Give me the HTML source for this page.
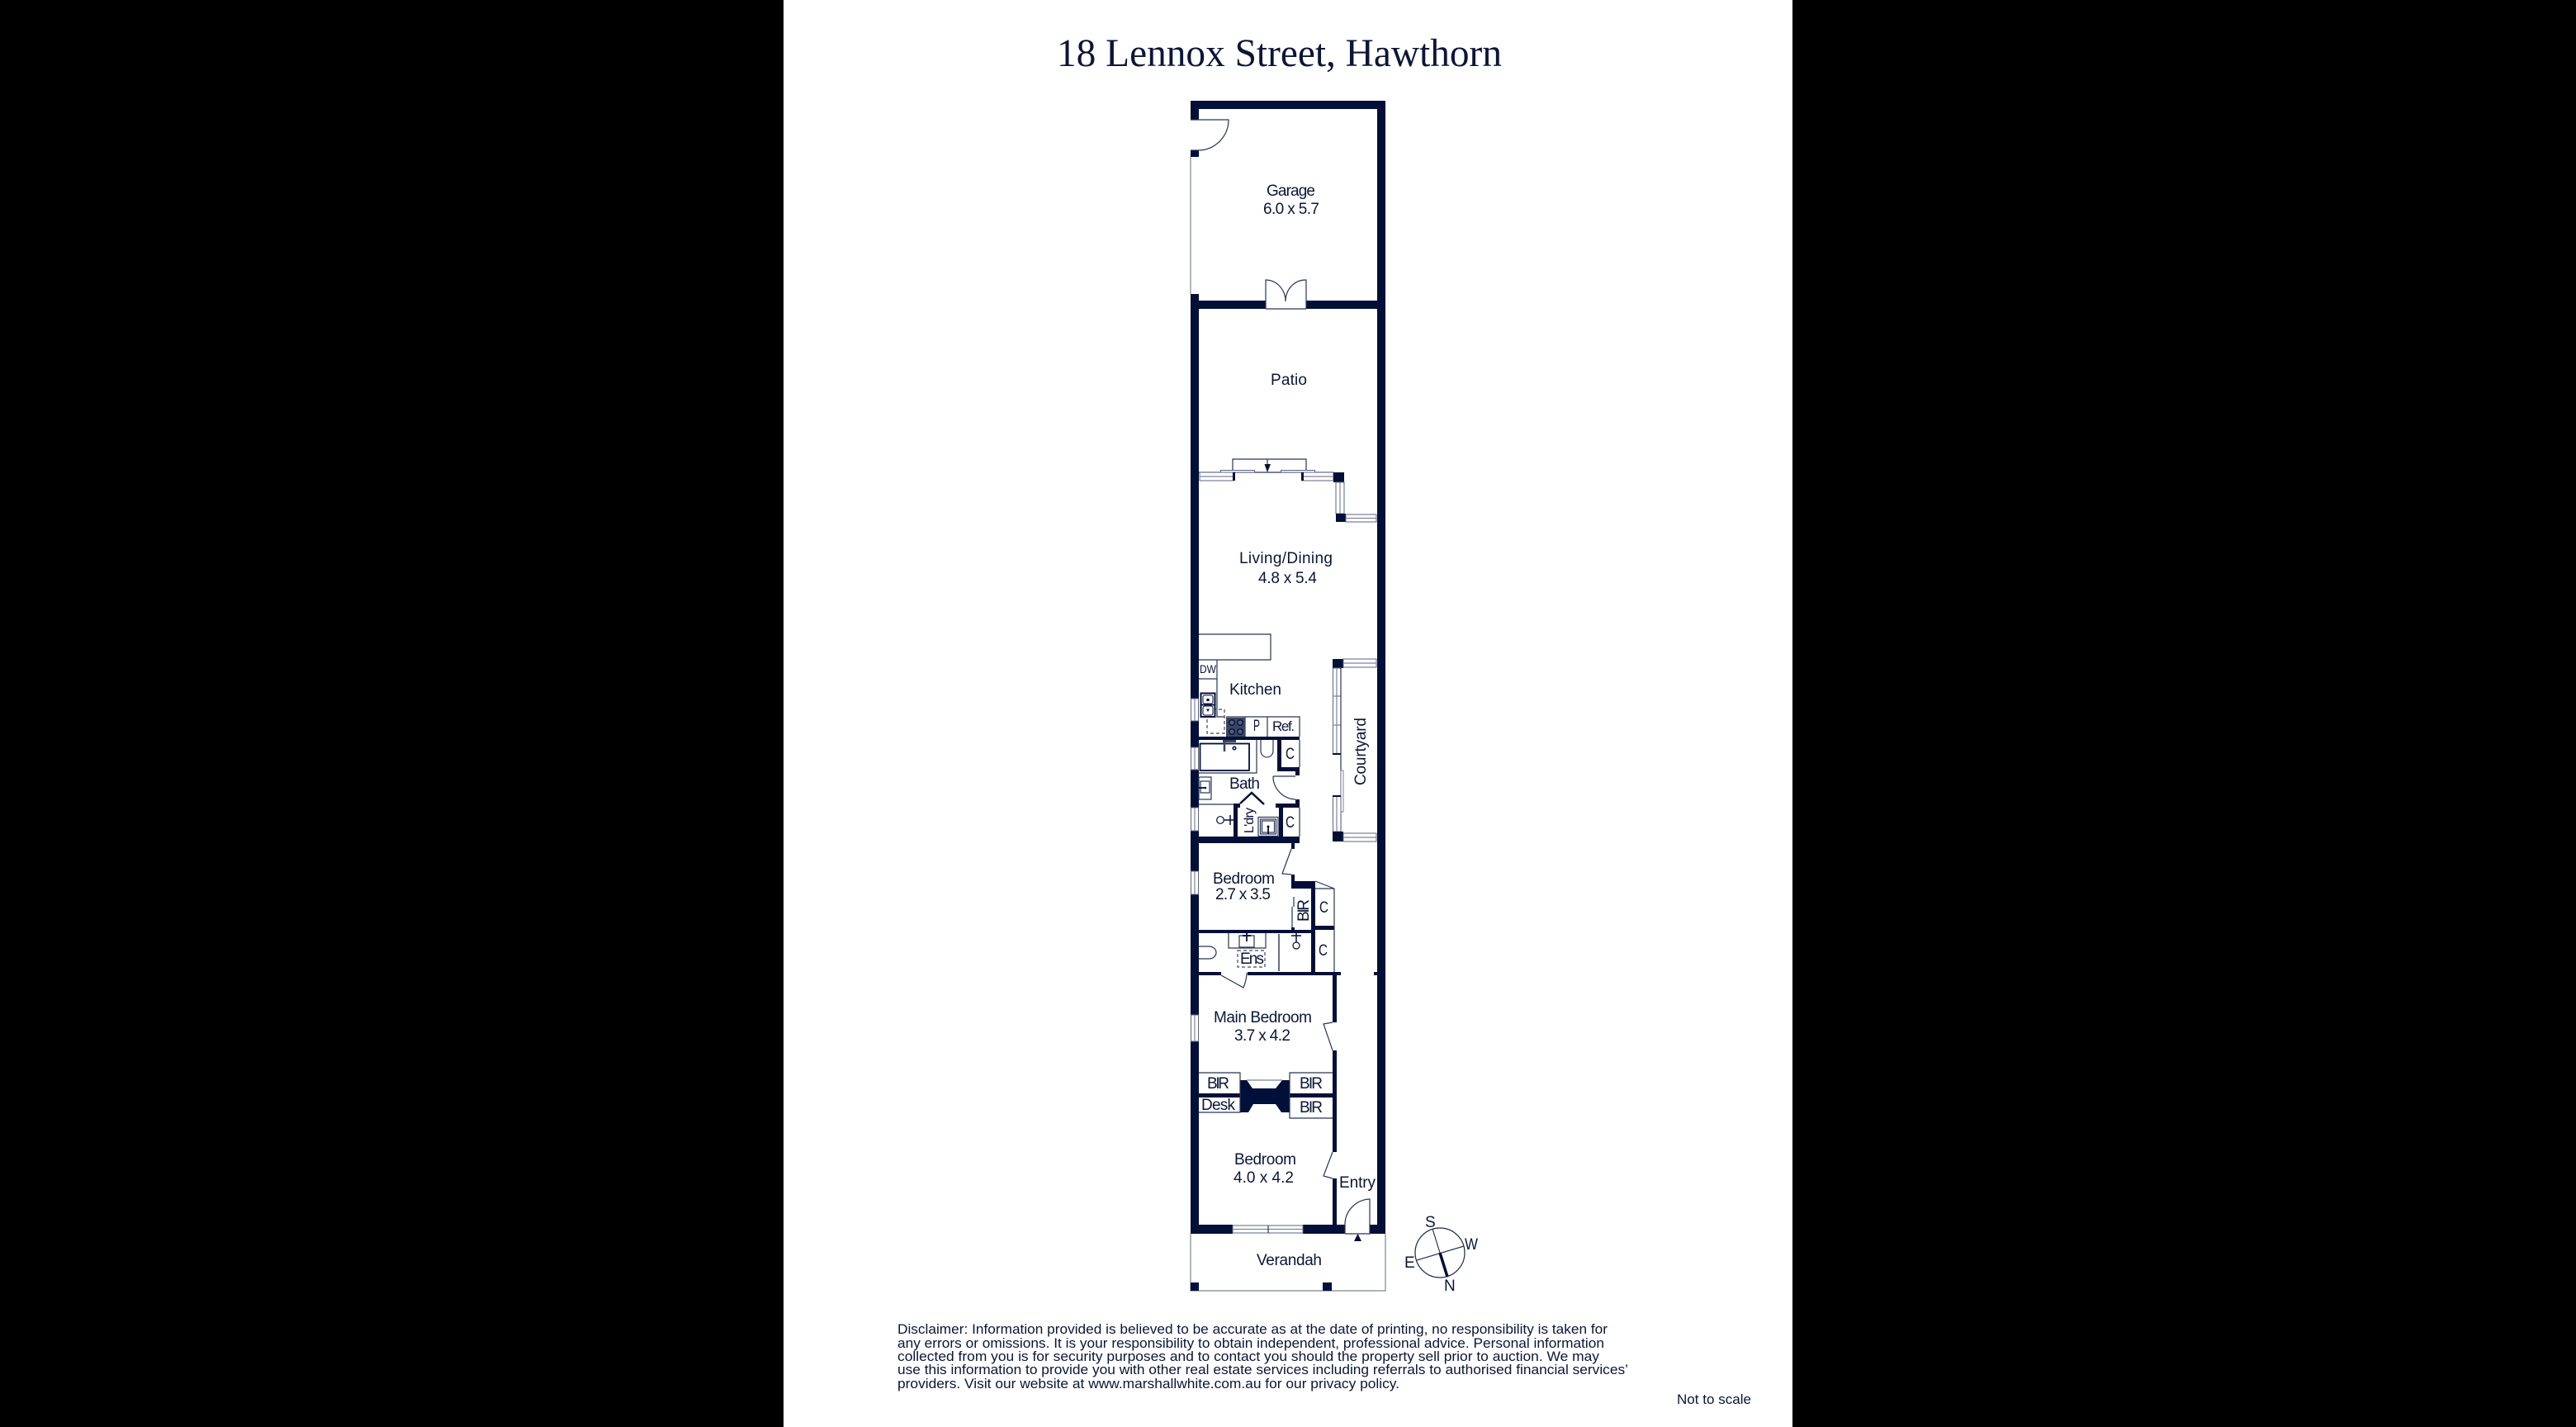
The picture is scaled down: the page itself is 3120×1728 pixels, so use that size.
<!DOCTYPE html>
<html><head><meta charset="utf-8"><style>
html,body{margin:0;padding:0;background:#000}
svg{display:block}
text{font-family:"Liberation Sans",Arial,sans-serif;fill:#0b1638}
.s{font-size:19px}
.w{fill:#020f38}
.l{fill:none;stroke:#2a3556;stroke-width:1.2}
.g{fill:none;stroke:#7d859c;stroke-width:1.2}
.win{fill:#fff;stroke:#5c6580;stroke-width:1}
.t{fill:none;stroke:#020f38;stroke-width:1.8}
</style></head><body>
<svg width="3120" height="1728" viewBox="0 0 3120 1728" xmlns="http://www.w3.org/2000/svg">
<rect width="3120" height="1728" fill="#000"/>
<rect x="949" width="1222" height="1728" fill="#fff"/>

<text x="1280" y="80" style="font-family:'Liberation Serif',serif;font-size:47.5px" textLength="539" lengthAdjust="spacingAndGlyphs">18 Lennox Street, Hawthorn</text>

<!-- Outer walls -->
<g class="w">
<rect x="1442" y="122" width="236" height="10"/>
<rect x="1442" y="122" width="10" height="23"/>
<rect x="1442" y="182" width="10" height="8"/>
<rect x="1442" y="356" width="10" height="490"/>
<rect x="1442" y="873" width="10" height="32"/>
<rect x="1442" y="932" width="10" height="46"/>
<rect x="1442" y="1006" width="10" height="49"/>
<rect x="1442" y="1083" width="10" height="146"/>
<rect x="1442" y="1261" width="10" height="233"/>
<rect x="1668" y="122" width="10" height="1372"/>
<rect x="1452" y="364" width="81" height="10"/>
<rect x="1582" y="364" width="86" height="10"/>
<rect x="1442" y="1483" width="51" height="11"/>
<rect x="1578" y="1483" width="51" height="11"/>
<rect x="1659" y="1483" width="19" height="11"/>
</g>
<path class="g" d="M1442 190V356"/>

<!-- Garage doors -->
<path class="l" d="M1442 145H1488A37 37 0 0 1 1451 182H1442"/>
<path class="l" d="M1533 374V339A24 26 0 0 1 1557 365A24 26 0 0 1 1582 339V374M1533 374H1582"/>

<!-- Patio openings -->
<path class="l" d="M1452 572H1615"/>
<path class="l" d="M1493 572V556H1582V572"/>
<path class="l" d="M1535 556V563"/>
<polygon class="w" points="1531.500,562 1539,562 1535,572"/>
<rect class="win" x="1478.500" y="569.500" width="41" height="2.500"/>
<rect class="win" x="1551.500" y="569.500" width="41" height="2.500"/>
<rect class="win" x="1453" y="572" width="41" height="10"/>
<path class="g" d="M1453 577H1494"/>
<rect class="win" x="1577" y="572" width="38" height="10"/>
<path class="g" d="M1577 577H1615"/>
<rect class="w" x="1493" y="572" width="3" height="10"/>
<rect class="w" x="1576" y="572" width="3" height="10"/>
<rect class="w" x="1615" y="572" width="13" height="12"/>
<rect class="win" x="1618" y="584" width="10" height="38"/>
<path class="g" d="M1623 584V622"/>
<rect class="w" x="1618" y="622" width="12" height="10"/>
<rect class="win" x="1630" y="623" width="37" height="9"/>
<path class="g" d="M1630 627.500H1667"/>

<!-- Left wall windows -->
<g>
<rect class="win" x="1442.500" y="846" width="9" height="27"/><path class="g" d="M1447 846V873"/>
<rect class="win" x="1442.500" y="905" width="9" height="27"/><path class="g" d="M1447 905V932"/>
<rect class="win" x="1442.500" y="978" width="9" height="28"/><path class="g" d="M1447 978V1006"/>
<rect class="win" x="1442.500" y="1055" width="9" height="28"/><path class="g" d="M1447 1055V1083"/>
<rect class="win" x="1442.500" y="1229" width="9" height="32"/><path class="g" d="M1447 1229V1261"/>
</g>

<!-- Kitchen -->
<path class="l" d="M1452 768H1539V799H1452"/>
<path class="l" d="M1474 799V868H1483M1452 822H1474"/>
<path class="l" d="M1485 868H1574V892M1508 868V892M1535 868V892"/>
<rect x="1485" y="869" width="23" height="23" fill="#3a4563"/>
<g fill="#55607c" stroke="#0a1540" stroke-width="1.5">
<circle cx="1492" cy="875" r="3.300"/><circle cx="1502" cy="875" r="3.300"/><circle cx="1492" cy="886" r="3.300"/><circle cx="1502" cy="886" r="3.300"/>
</g>
<rect x="1462" y="859" width="21" height="29" fill="none" stroke="#3d4766" stroke-width="1.200" stroke-dasharray="4 3"/>
<rect x="1454.500" y="839.500" width="17" height="28.500" fill="#fff" stroke="#020f38" stroke-width="2"/>
<path class="t" d="M1455 853.500H1471"/>
<rect x="1457" y="842" width="12" height="10" rx="2" fill="#fff" stroke="#020f38" stroke-width="1"/>
<rect x="1457" y="855" width="12" height="11" rx="2" fill="#fff" stroke="#020f38" stroke-width="1"/>
<circle cx="1463" cy="847.500" r="1.800" class="w"/>
<polygon class="w" points="1461,858.500 1465,858.500 1463,862"/>
<text class="s" x="1453" y="815" style="font-size:14px" textLength="20" lengthAdjust="spacingAndGlyphs">DW</text>
<text class="s" x="1489" y="841" textLength="63">Kitchen</text>
<text class="s" x="1518" y="885" textLength="8" lengthAdjust="spacingAndGlyphs">P</text>
<text class="s" x="1541" y="885" style="font-size:17px" textLength="27">Ref.</text>

<!-- Walls bath/laundry -->
<g class="w">
<rect x="1452" y="892" width="122" height="4"/>
<rect x="1547" y="896" width="5" height="38"/>
<rect x="1547" y="929" width="27" height="5"/>
<rect x="1569" y="929" width="5" height="10"/>
<rect x="1569" y="968" width="5" height="10"/>
<rect x="1545" y="973" width="29" height="5"/>
<rect x="1549" y="973" width="5" height="40"/>
<rect x="1494" y="973" width="5" height="40"/>
<rect x="1494" y="973" width="8" height="5"/>
<rect x="1452" y="1013" width="122" height="8"/>
</g>
<path class="l" d="M1574 896V929M1574 978V1013"/>
<!-- Bath fittings -->
<path class="l" d="M1452 936H1522V896"/>
<rect x="1453.500" y="900.500" width="59.500" height="32.500" fill="#fff" stroke="#020f38" stroke-width="1.800"/>
<path d="M1483 897V910" stroke="#3a4563" stroke-width="2.500"/>
<rect x="1481" y="896" width="16" height="3" fill="#3a4563"/>
<circle cx="1495" cy="906" r="1.800" fill="none" stroke="#020f38" stroke-width="1.500"/>
<path class="l" d="M1527 896V909C1527 914 1531 917 1534.500 917C1538 917 1542 914 1542 909V896"/>
<path class="l" d="M1542 940H1569M1542 940A28 28 0 0 0 1569 968"/>
<rect class="l" x="1452" y="941" width="15" height="27"/>
<rect class="l" x="1454" y="946" width="11" height="14"/>
<path class="t" d="M1452 954H1460"/>
<circle cx="1460" cy="954" r="1.300" class="w"/>
<path class="l" d="M1452 974H1494"/>
<circle class="t" cx="1478" cy="993" r="4.300" style="stroke-width:1.200"/>
<path class="t" d="M1482 993H1494M1490 987V999" style="stroke-width:1.500"/>
<path d="M1502 973L1516 960L1531 974" fill="none" stroke="#020f38" stroke-width="2.500"/>
<rect class="l" x="1524" y="989.500" width="24" height="23"/>
<rect class="l" x="1526.500" y="992" width="19" height="18"/>
<rect class="l" x="1528.500" y="994" width="15" height="14"/>
<path class="t" d="M1536 1000V1010"/>
<circle cx="1536" cy="1001" r="1.500" class="w"/>
<text class="s" x="1489" y="955" textLength="37">Bath</text>
<text class="s" transform="translate(1518 1009) rotate(-90)" x="0" y="0" style="font-size:16px" textLength="31">L'dry</text>
<text class="s" x="1557" y="919" textLength="11" lengthAdjust="spacingAndGlyphs">C</text>
<text class="s" x="1557" y="1002" textLength="11" lengthAdjust="spacingAndGlyphs">C</text>

<!-- Courtyard -->
<rect class="w" x="1614" y="798" width="13" height="11"/>
<rect class="win" x="1627" y="798" width="40" height="10"/>
<path class="g" d="M1627 803H1667"/>
<rect class="win" x="1614.500" y="809" width="9.500" height="104"/>
<path class="g" d="M1619 809V913M1614 843H1624M1614 878H1624"/>
<rect class="w" x="1614" y="912" width="10" height="2"/>
<path class="l" d="M1624 808V1008"/>
<rect class="win" x="1624" y="933" width="3" height="50" style="stroke:#7d859c"/>
<rect class="win" x="1614.500" y="964" width="9.500" height="43"/>
<path class="g" d="M1619 964V1007"/>
<rect class="w" x="1614" y="963" width="10" height="2"/>
<rect class="w" x="1614" y="1007" width="13" height="12"/>
<rect class="win" x="1627" y="1009" width="40" height="10"/>
<path class="g" d="M1627 1014H1667"/>
<text class="s" transform="translate(1654 951) rotate(-90)" x="0" y="0" textLength="82">Courtyard</text>

<!-- Bedroom 2 / Ens -->
<g class="w">
<rect x="1564" y="1021" width="4" height="7"/>
<rect x="1564" y="1059" width="4" height="17"/>
<rect x="1564" y="1067" width="29" height="9"/>
<rect x="1588" y="1067" width="5" height="110"/>
<rect x="1451" y="1126" width="137" height="4"/>
<rect x="1593" y="1121" width="23" height="5"/>
<rect x="1452" y="1177" width="27" height="4"/>
<rect x="1511" y="1177" width="113" height="4"/>
<rect x="1664" y="1177" width="5" height="4"/>
<rect x="1564" y="1123" width="4" height="4"/>
</g>
<path class="l" d="M1564 1028L1553 1058L1564 1059"/>
<rect x="1566" y="1086" width="2" height="12" fill="#7d859c"/>
<rect x="1564" y="1098" width="2" height="25" fill="#7d859c"/>
<path class="l" d="M1593 1067L1616 1076V1177M1593 1076H1616"/>
<path class="l" d="M1479 1181L1506 1196C1508 1191 1510 1185 1510 1178"/>
<path class="l" d="M1488 1130V1148H1533V1130"/>
<rect class="l" x="1501" y="1133" width="18" height="14"/>
<path class="t" d="M1510 1130V1140"/>
<rect class="w" x="1505" y="1132" width="10" height="2"/>
<rect x="1499" y="1151" width="33" height="20" fill="none" stroke="#3d4766" stroke-width="1.200" stroke-dasharray="4 3"/>
<path class="l" d="M1452 1146H1464C1470 1146 1473 1150 1473 1153.500C1473 1157 1470 1161 1464 1161H1452"/>
<path class="t" d="M1549 1131V1176" style="stroke-width:1.200"/>
<circle cx="1570" cy="1145" r="4" fill="none" stroke="#020f38" stroke-width="1.200"/>
<path class="t" d="M1570 1130V1141M1564 1133H1576" style="stroke-width:1.500"/>
<text class="s" x="1469" y="1070" textLength="75">Bedroom</text>
<text class="s" x="1472" y="1089" textLength="67">2.7 x 3.5</text>
<text class="s" transform="translate(1585 1116) rotate(-90)" x="0" y="0" textLength="27">BIR</text>
<text class="s" x="1598" y="1105" textLength="11" lengthAdjust="spacingAndGlyphs">C</text>
<text class="s" x="1597" y="1157" textLength="11" lengthAdjust="spacingAndGlyphs">C</text>
<text class="s" x="1502" y="1167" textLength="29">Ens</text>

<!-- Main bedroom -->
<g class="w">
<rect x="1614" y="1181" width="5" height="57"/>
<rect x="1614" y="1272" width="5" height="123"/>
<rect x="1614" y="1427" width="5" height="56"/>
<rect x="1451" y="1324" width="163" height="5"/>
<rect x="1502" y="1308" width="60" height="39"/>
</g>
<path class="l" d="M1614 1238L1603 1240L1614 1272"/>
<path class="l" d="M1614 1395L1603 1424L1614 1427"/>
<polygon fill="#fff" points="1510,1308 1553,1308 1545,1318 1517,1318"/>
<polygon fill="#fff" points="1518,1337 1545,1337 1552,1347 1512,1347"/>
<path class="g" d="M1510 1308H1553"/>
<path class="l" d="M1452 1299H1502V1347H1452"/>
<path class="l" d="M1614 1299H1562V1354H1614"/>
<text class="s" x="1470" y="1238" textLength="119">Main Bedroom</text>
<text class="s" x="1495" y="1260" textLength="68">3.7 x 4.2</text>
<text class="s" x="1462" y="1318" textLength="27">BIR</text>
<text class="s" x="1574" y="1318" textLength="28">BIR</text>
<text class="s" x="1574" y="1347" textLength="28">BIR</text>
<text class="s" x="1455" y="1344" textLength="41">Desk</text>
<text class="s" x="1495" y="1410" textLength="75">Bedroom</text>
<text class="s" x="1494" y="1432" textLength="73">4.0 x 4.2</text>
<text class="s" x="1622" y="1438" textLength="44">Entry</text>

<!-- Front -->
<rect class="win" x="1493" y="1484" width="85" height="9"/>
<path class="g" d="M1493 1488.500H1578"/>
<path class="l" d="M1536 1484V1493"/>
<path class="l" d="M1629 1494V1483A31 31 0 0 1 1659 1452V1494H1629"/>
<polygon class="w" points="1644.500,1494 1649,1503 1640,1503"/>
<path class="g" d="M1442 1494V1563H1678V1494"/>
<rect class="w" x="1442" y="1553" width="10" height="10"/>
<rect class="w" x="1602" y="1553" width="11" height="10"/>

<!-- Compass -->
<circle cx="1744" cy="1517" r="30" fill="none" stroke="#1d2848" stroke-width="1.200"/>
<path class="l" d="M1735 1488L1744 1517M1716 1526L1773 1509"/>
<path d="M1744 1517L1753 1546" stroke="#020f38" stroke-width="3.500"/>
<text class="s" x="1726" y="1486">S</text>
<text class="s" x="1774" y="1513" textLength="16" lengthAdjust="spacingAndGlyphs">W</text>
<text class="s" x="1701" y="1535">E</text>
<text class="s" x="1749" y="1563">N</text>

<!-- Labels -->
<text class="s" x="1534" y="237" textLength="59">Garage</text>
<text class="s" x="1530" y="259" textLength="68">6.0 x 5.7</text>
<text class="s" x="1539" y="466" textLength="44">Patio</text>
<text class="s" x="1501" y="682" textLength="113">Living/Dining</text>
<text class="s" x="1524" y="706" textLength="71">4.8 x 5.4</text>
<text class="s" x="1522" y="1532" textLength="79">Verandah</text>

<!-- Disclaimer -->
<g style="font-size:17px">
<text x="1087" y="1615" textLength="860" lengthAdjust="spacingAndGlyphs">Disclaimer: Information provided is believed to be accurate as at the date of printing, no responsibility is taken for</text>
<text x="1087" y="1632" textLength="856" lengthAdjust="spacingAndGlyphs">any errors or omissions. It is your responsibility to obtain independent, professional advice. Personal information</text>
<text x="1087" y="1648" textLength="850" lengthAdjust="spacingAndGlyphs">collected from you is for security purposes and to contact you should the property sell prior to auction. We may</text>
<text x="1087" y="1664" textLength="885" lengthAdjust="spacingAndGlyphs">use this information to provide you with other real estate services including referrals to authorised financial services’</text>
<text x="1087" y="1681" textLength="608" lengthAdjust="spacingAndGlyphs">providers. Visit our website at www.marshallwhite.com.au for our privacy policy.</text>
<text x="2031" y="1700" textLength="90" lengthAdjust="spacingAndGlyphs">Not to scale</text>
</g>
</svg>
</body></html>
